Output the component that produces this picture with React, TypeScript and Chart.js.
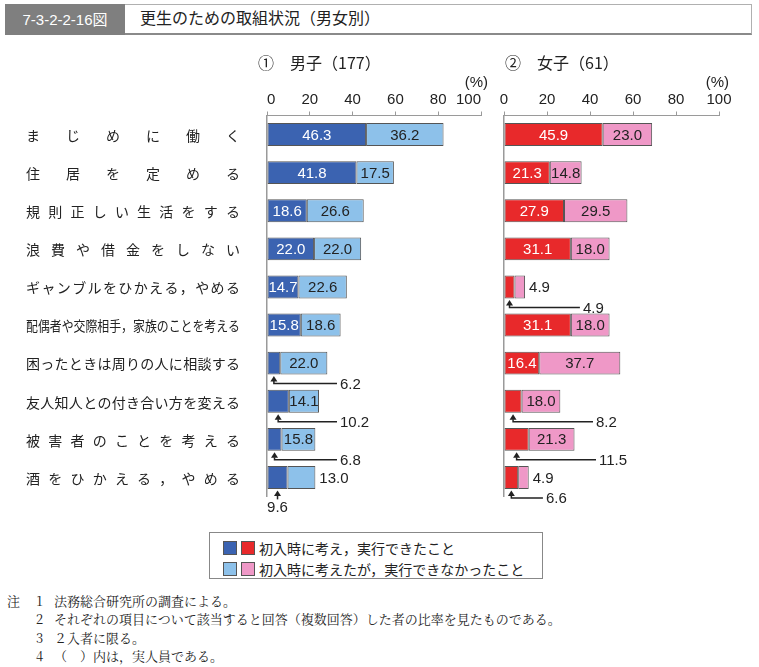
import React, { useEffect, useRef } from "react";
import { Chart, registerables } from "chart.js";

Chart.register(...registerables);

// ---------- data ----------
const categories = [
  "まじめに働く",
  "住居を定める",
  "規則正しい生活をする",
  "浪費や借金をしない",
  "ギャンブルをひかえる，やめる",
  "配偶者や交際相手，家族のことを考える",
  "困ったときは周りの人に相談する",
  "友人知人との付き合い方を変える",
  "被害者のことを考える",
  "酒をひかえる，やめる",
];
const xTicks = [0, 20, 40, 60, 80, 100];
const maleDone = [46.3, 41.8, 18.6, 22.0, 14.7, 15.8, 6.2, 10.2, 6.8, 9.6];
const maleNotDone = [36.2, 17.5, 26.6, 22.0, 22.6, 18.6, 22.0, 14.1, 15.8, 13.0];
const femaleDone = [45.9, 21.3, 27.9, 31.1, 4.9, 31.1, 16.4, 8.2, 11.5, 6.6];
const femaleNotDone = [23.0, 14.8, 29.5, 18.0, 4.9, 18.0, 37.7, 18.0, 21.3, 4.9];
const maleTitle = ["①", "男子（177）"];
const femaleTitle = ["②", "女子（61）"];
const unitLabel = "(%)";
const figureNo = "7-3-2-2-16図";
const figureTitle = "更生のための取組状況（男女別）";
const legendLabels = [
  "初入時に考え，実行できたこと",
  "初入時に考えたが，実行できなかったこと",
];
const noteHead = "注";
const noteNums = ["1", "2", "3", "4"];
const noteTexts = [
  "法務総合研究所の調査による。",
  "それぞれの項目について該当すると回答（複数回答）した者の比率を見たものである。",
  "２入者に限る。",
  "（　）内は，実人員である。",
];

// ---------- styles ----------
const NUM_FONT = '"Liberation Sans", Arial, "Noto Sans CJK JP", sans-serif';
const CJK_FONT = '"Noto Sans CJK JP", "Noto Sans", sans-serif';
const SERIF_FONT = '"Noto Serif CJK JP", "Liberation Serif", "Noto Sans CJK JP", serif';
const COLORS = {
  maleDark: "#3b63b1",
  maleLight: "#8dc1ea",
  femaleDark: "#e8292b",
  femaleLight: "#ef98c7",
  border: "#555555",
  axis: "#9a9a9a",
  text: "#222222",
};

type Panel = {
  done: number[];
  notDone: number[];
  colors: [string, string];
  textColors: [string, string];
  title: string[];
  titleDx: number;
  pctDx: number;
  showCategories: boolean;
  tickAlign: "inner" | "center";
  padLeft: number;
  padRight: number;
  calloutEnd: Record<number, number>;
  belowIdx: number[];
};

const CANVAS_TOP = 40;
const CANVAS_H = 480;

function makePlugin(panel: Panel) {
  return {
    id: "panelDecor",
    afterDatasetsDraw(chart: any) {
      const ctx: CanvasRenderingContext2D = chart.ctx;
      const xs = chart.scales.x;
      const ys = chart.scales.y;
      ctx.save();

      // panel title and unit
      ctx.fillStyle = COLORS.text;
      ctx.textBaseline = "middle";
      ctx.textAlign = "left";
      ctx.font = `16px ${CJK_FONT}`;
      ctx.fillText(panel.title[0], xs.left + panel.titleDx, 63 - CANVAS_TOP);
      ctx.fillText(panel.title[1], xs.left + panel.titleDx + 32, 63 - CANVAS_TOP);
      ctx.font = `15px ${NUM_FONT}`;
      ctx.textAlign = "right";
      ctx.fillText(unitLabel, xs.right + panel.pctDx, 83 - CANVAS_TOP);

      // category labels (justified)
      if (panel.showCategories) {
        ctx.font = `14px ${CJK_FONT}`;
        ctx.textAlign = "left";
        const L = 26;
        const R = 240;
        const W = R - L;
        categories.forEach((lab, i) => {
          const y = ys.getPixelForValue(i) + 1;
          const chars = Array.from(lab);
          const widths = chars.map((c) => ctx.measureText(c).width);
          const total = widths.reduce((a, b) => a + b, 0);
          if (total >= W) {
            ctx.save();
            ctx.translate(L, y);
            ctx.scale(W / total, 1);
            ctx.fillText(lab, 0, 0);
            ctx.restore();
          } else {
            const gap = (W - total) / (chars.length - 1);
            let x = L;
            chars.forEach((c, k) => {
              ctx.fillText(c, x, y);
              x += widths[k] + gap;
            });
          }
        });
      }

      // data labels
      ctx.font = `15px ${NUM_FONT}`;
      const m0 = chart.getDatasetMeta(0);
      const m1 = chart.getDatasetMeta(1);
      categories.forEach((_, i) => {
        const b0 = m0.data[i].getProps(["x", "y", "base", "height"], true);
        const b1 = m1.data[i].getProps(["x", "y", "base", "height"], true);
        const t0 = panel.done[i].toFixed(1);
        const t1 = panel.notDone[i].toFixed(1);
        const bottom = b0.y + b0.height / 2;

        // first segment
        const w0 = Math.abs(b0.x - b0.base);
        const tw0 = ctx.measureText(t0).width;
        if (tw0 <= w0 - 0.2) {
          ctx.fillStyle = panel.textColors[0];
          ctx.textAlign = "center";
          ctx.fillText(t0, (b0.x + b0.base) / 2, b0.y + 1);
        } else {
          const ax = (b0.x + b0.base) / 2;
          const headTop = bottom + 1.5;
          ctx.fillStyle = COLORS.text;
          ctx.strokeStyle = COLORS.text;
          ctx.lineWidth = 1.5;
          ctx.beginPath();
          ctx.moveTo(ax, headTop);
          ctx.lineTo(ax - 3.5, headTop + 5.5);
          ctx.lineTo(ax + 3.5, headTop + 5.5);
          ctx.closePath();
          ctx.fill();
          if (panel.belowIdx.includes(i)) {
            ctx.beginPath();
            ctx.moveTo(ax, headTop + 5);
            ctx.lineTo(ax, headTop + 9);
            ctx.stroke();
            ctx.textAlign = "center";
            ctx.fillText(t0, ax, bottom + 19);
          } else {
            const ly = bottom + 9;
            const ex = xs.getPixelForValue(panel.calloutEnd[i] ?? 30);
            ctx.beginPath();
            ctx.moveTo(ax, headTop + 5);
            ctx.lineTo(ax, ly);
            ctx.lineTo(ex, ly);
            ctx.stroke();
            ctx.textAlign = "left";
            ctx.fillText(t0, ex + 3, ly + 1);
          }
        }

        // second segment
        const w1 = Math.abs(b1.x - b1.base);
        const tw1 = ctx.measureText(t1).width;
        if (tw1 <= w1 - 0.2) {
          ctx.fillStyle = panel.textColors[1];
          ctx.textAlign = "center";
          ctx.fillText(t1, (b1.x + b1.base) / 2, b1.y + 1);
        } else {
          ctx.fillStyle = COLORS.text;
          ctx.textAlign = "left";
          ctx.fillText(t1, Math.max(b1.x, b1.base) + 4, b1.y + 1);
        }
      });

      ctx.restore();
    },
  };
}

function makeChart(canvas: HTMLCanvasElement, panel: Panel) {
  return new Chart(canvas, {
    type: "bar",
    data: {
      labels: categories,
      datasets: [
        {
          data: panel.done,
          backgroundColor: panel.colors[0],
          borderColor: COLORS.border,
          borderWidth: 1,
          borderSkipped: false,
          stack: "s",
          categoryPercentage: 1,
          barPercentage: 0.6,
        },
        {
          data: panel.notDone,
          backgroundColor: panel.colors[1],
          borderColor: COLORS.border,
          borderWidth: 1,
          borderSkipped: false,
          stack: "s",
          categoryPercentage: 1,
          barPercentage: 0.6,
        },
      ],
    },
    options: {
      indexAxis: "y",
      responsive: false,
      animation: false,
      devicePixelRatio: 1,
      events: [],
      layout: {
        padding: { left: panel.padLeft, right: panel.padRight, top: 0, bottom: 23.5 },
      },
      plugins: {
        legend: { display: false },
        tooltip: { enabled: false },
        title: { display: false },
      },
      scales: {
        x: {
          type: "linear",
          position: "top",
          min: 0,
          max: 100,
          stacked: true,
          afterBuildTicks: (s: any) => {
            s.ticks = xTicks.map((v) => ({ value: v }));
          },
          afterFit: (s: any) => {
            s.height = 75.5;
          },
          grid: {
            display: true,
            drawOnChartArea: false,
            drawTicks: true,
            tickLength: 4,
            color: COLORS.axis,
          },
          border: { display: true, color: COLORS.axis, width: 1 },
          ticks: {
            font: { size: 15, family: NUM_FONT },
            color: COLORS.text,
            padding: 2.5,
            align: panel.tickAlign,
            maxRotation: 0,
            autoSkip: false,
          },
        },
        y: {
          type: "category",
          stacked: true,
          afterFit: (s: any) => {
            s.width = 0;
          },
          grid: { display: false },
          border: { display: true, color: COLORS.axis, width: 1.5 },
          ticks: { display: false },
        },
      },
    } as any,
    plugins: [makePlugin(panel)],
  });
}

const malePanel: Panel = {
  done: maleDone,
  notDone: maleNotDone,
  colors: [COLORS.maleDark, COLORS.maleLight],
  textColors: ["#ffffff", COLORS.text],
  title: maleTitle,
  titleDx: -9,
  pctDx: 7,
  showCategories: true,
  tickAlign: "inner",
  padLeft: 267,
  padRight: 14,
  calloutEnd: { 6: 32.7, 7: 32.7, 8: 32.7 },
  belowIdx: [9],
};

const femalePanel: Panel = {
  done: femaleDone,
  notDone: femaleNotDone,
  colors: [COLORS.femaleDark, COLORS.femaleLight],
  textColors: ["#ffffff", COLORS.text],
  title: femaleTitle,
  titleDx: 1,
  pctDx: 10,
  showCategories: false,
  tickAlign: "center",
  padLeft: 9,
  padRight: 40,
  calloutEnd: { 4: 35.3, 7: 41.4, 8: 42.8, 9: 18.1 },
  belowIdx: [],
};

function Swatch({ color }: { color: string }) {
  return (
    <span
      style={{
        display: "inline-block",
        width: 12,
        height: 12,
        background: color,
        border: `1px solid ${COLORS.border}`,
        marginRight: 4,
        verticalAlign: "middle",
      }}
    />
  );
}

export default function App() {
  const leftRef = useRef<HTMLCanvasElement>(null);
  const rightRef = useRef<HTMLCanvasElement>(null);

  useEffect(() => {
    const c1 = makeChart(leftRef.current!, malePanel);
    const c2 = makeChart(rightRef.current!, femalePanel);
    return () => {
      c1.destroy();
      c2.destroy();
    };
  }, []);

  return (
    <div
      style={{
        position: "absolute",
        left: 0,
        top: 0,
        width: 759,
        height: 667,
        background: "#fff",
        overflow: "hidden",
        color: COLORS.text,
      }}
    >
      {/* title bar */}
      <div
        style={{
          position: "absolute",
          left: 5,
          top: 4,
          width: 746,
          height: 28,
          borderTop: "1px solid #b0b0b0",
          borderRight: "1px solid #b0b0b0",
          borderBottom: "2px solid #8a8a8a",
        }}
      />
      <div
        style={{
          position: "absolute",
          left: 5,
          top: 4,
          width: 120,
          height: 31,
          background: "#7f7f7f",
          color: "#fff",
          font: `15px ${NUM_FONT}`,
          lineHeight: "31px",
          textAlign: "center",
        }}
      >
        {figureNo}
      </div>
      <div
        style={{
          position: "absolute",
          left: 140,
          top: 5,
          height: 29,
          lineHeight: "29px",
          font: `16px ${CJK_FONT}`,
          whiteSpace: "nowrap",
        }}
      >
        {figureTitle}
      </div>

      {/* charts */}
      <canvas
        ref={leftRef}
        width={495}
        height={CANVAS_H}
        style={{ position: "absolute", left: 0, top: CANVAS_TOP, width: 495, height: CANVAS_H }}
      />
      <canvas
        ref={rightRef}
        width={264}
        height={CANVAS_H}
        style={{ position: "absolute", left: 495, top: CANVAS_TOP, width: 264, height: CANVAS_H }}
      />

      {/* legend */}
      <div
        style={{
          position: "absolute",
          left: 209,
          top: 532,
          width: 332,
          height: 45,
          border: "1px solid #888",
          font: `14px ${CJK_FONT}`,
        }}
      >
        <div style={{ position: "absolute", left: 13, top: 3, height: 20, lineHeight: "20px", whiteSpace: "nowrap" }}>
          <Swatch color={COLORS.maleDark} />
          <Swatch color={COLORS.femaleDark} />
          <span style={{ verticalAlign: "middle" }}>{legendLabels[0]}</span>
        </div>
        <div style={{ position: "absolute", left: 13, top: 24, height: 20, lineHeight: "20px", whiteSpace: "nowrap" }}>
          <Swatch color={COLORS.maleLight} />
          <Swatch color={COLORS.femaleLight} />
          <span style={{ verticalAlign: "middle" }}>{legendLabels[1]}</span>
        </div>
      </div>

      {/* notes */}
      <div style={{ position: "absolute", left: 7, top: 592, font: `13px ${SERIF_FONT}`, lineHeight: "18px" }}>
        {noteHead}
      </div>
      {noteNums.map((n, i) => (
        <React.Fragment key={n}>
          <div
            style={{
              position: "absolute",
              left: 36,
              top: 592 + i * 18.3,
              font: `13px ${SERIF_FONT}`,
              lineHeight: "18px",
            }}
          >
            {n}
          </div>
          <div
            style={{
              position: "absolute",
              left: 54,
              top: 592 + i * 18.3,
              font: `13px ${SERIF_FONT}`,
              lineHeight: "18px",
              whiteSpace: "nowrap",
            }}
          >
            {noteTexts[i]}
          </div>
        </React.Fragment>
      ))}
    </div>
  );
}
